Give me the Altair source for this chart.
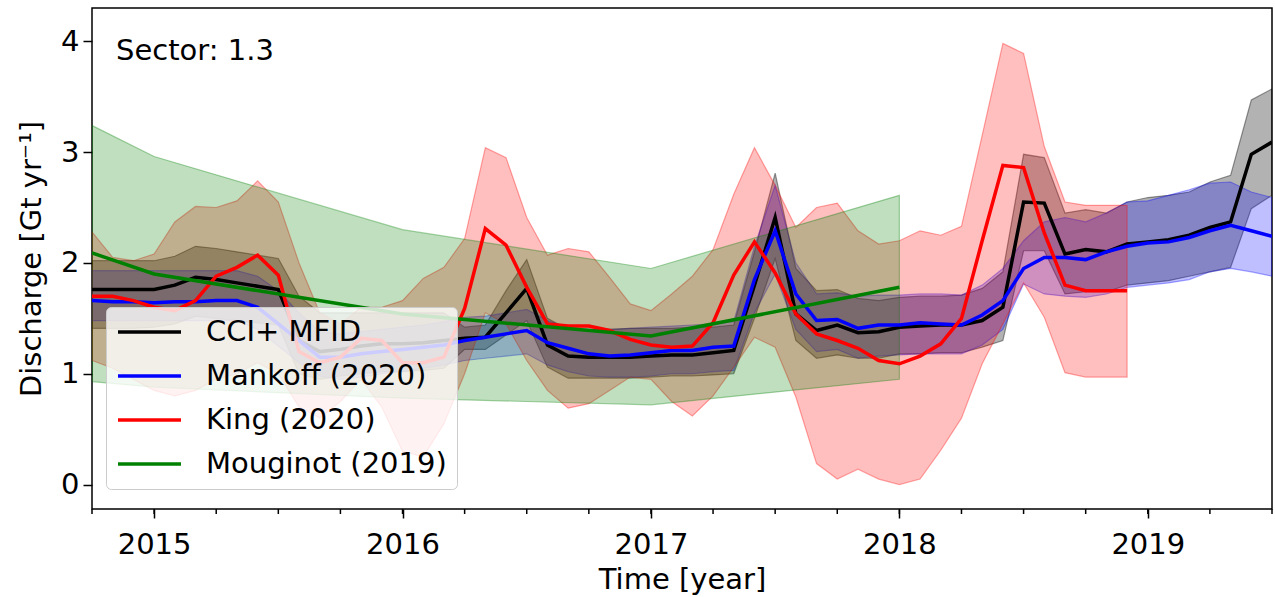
import altair as alt
import pandas as pd

# ---------------- data ----------------
months = pd.date_range("2014-10-01", "2019-07-01", freq="MS")   # monthly samples
t_all = [float(d.year + (d.month - 1) / 12) for d in months]     # decimal year
t_king = t_all[:51]                                                # King ends Dec 2018
moug_t = [2014.75, 2015.0, 2016.0, 2017.0, 2018.0]

series_names = ["CCI+ MFID", "Mankoff (2020)", "King (2020)", "Mouginot (2019)"]
series_colors = ["black", "blue", "red", "green"]

cci = [1.76, 1.76, 1.76, 1.76, 1.80, 1.87, 1.85, 1.82, 1.79, 1.76,
       1.30, 1.20, 1.22, 1.25, 1.27, 1.27, 1.28, 1.30, 1.32, 1.33,
       1.55, 1.77, 1.26, 1.16, 1.15, 1.15, 1.15, 1.16, 1.17, 1.17,
       1.19, 1.21, 1.80, 2.41, 1.54, 1.39, 1.44, 1.37, 1.38, 1.42,
       1.43, 1.44, 1.44, 1.48, 1.60, 2.55, 2.54, 2.08, 2.12, 2.10,
       2.17, 2.19, 2.21, 2.25, 2.32, 2.37, 2.98, 3.09]
cci_hi = [2.02, 2.02, 2.02, 2.02, 2.06, 2.15, 2.13, 2.10, 2.07, 2.04,
          1.70, 1.55, 1.55, 1.55, 1.55, 1.55, 1.55, 1.55, 1.42, 1.44,
          1.75, 2.03, 1.50, 1.40, 1.40, 1.40, 1.41, 1.41, 1.41, 1.42,
          1.42, 1.44, 2.10, 2.81, 1.95, 1.75, 1.76, 1.68, 1.66, 1.69,
          1.70, 1.70, 1.71, 1.77, 1.92, 2.98, 2.95, 2.45, 2.48, 2.45,
          2.55, 2.59, 2.61, 2.64, 2.73, 2.79, 3.47, 3.57]
cci_lo = [1.41, 1.41, 1.41, 1.42, 1.45, 1.52, 1.50, 1.48, 1.46, 1.44,
          1.00, 0.95, 0.98, 1.00, 1.02, 1.02, 1.03, 1.05, 1.22, 1.22,
          1.35, 1.48, 1.06, 0.96, 0.96, 0.96, 0.96, 0.97, 0.98, 0.98,
          0.99, 1.00, 1.50, 2.04, 1.30, 1.14, 1.17, 1.14, 1.14, 1.18,
          1.18, 1.19, 1.19, 1.24, 1.30, 2.11, 2.11, 1.72, 1.74, 1.74,
          1.80, 1.82, 1.84, 1.88, 1.92, 1.96, 2.49, 2.61]

mankoff = [1.66, 1.65, 1.65, 1.64, 1.65, 1.65, 1.66, 1.66, 1.60, 1.45,
           1.30, 1.15, 1.15, 1.18, 1.20, 1.22, 1.24, 1.26, 1.30, 1.33,
           1.36, 1.39, 1.28, 1.23, 1.18, 1.16, 1.17, 1.19, 1.21, 1.21,
           1.24, 1.25, 1.85, 2.29, 1.72, 1.48, 1.49, 1.41, 1.44, 1.44,
           1.46, 1.45, 1.44, 1.53, 1.66, 1.95, 2.05, 2.05, 2.03, 2.10,
           2.15, 2.18, 2.19, 2.23, 2.29, 2.34, 2.29, 2.24]
mankoff_hi = [1.93, 1.93, 1.93, 1.93, 1.93, 1.93, 1.93, 1.93, 1.88, 1.75,
              1.55, 1.38, 1.36, 1.38, 1.40, 1.42, 1.44, 1.47, 1.51, 1.52,
              1.55, 1.58, 1.48, 1.42, 1.40, 1.40, 1.41, 1.42, 1.43, 1.44,
              1.45, 1.47, 2.15, 2.70, 2.00, 1.72, 1.73, 1.70, 1.71, 1.71,
              1.72, 1.72, 1.71, 1.80, 1.95, 2.20, 2.37, 2.41, 2.37, 2.45,
              2.55, 2.56, 2.61, 2.66, 2.72, 2.73, 2.64, 2.59]
mankoff_lo = [1.48, 1.48, 1.48, 1.48, 1.48, 1.48, 1.48, 1.48, 1.40, 1.25,
              1.10, 0.98, 0.95, 0.97, 1.00, 1.02, 1.05, 1.08, 1.12, 1.14,
              1.16, 1.18, 1.08, 1.02, 0.98, 0.97, 0.97, 0.98, 1.00, 1.00,
              1.02, 1.03, 1.55, 1.90, 1.40, 1.20, 1.22, 1.14, 1.16, 1.17,
              1.18, 1.18, 1.18, 1.26, 1.40, 1.81, 1.72, 1.70, 1.69, 1.72,
              1.78, 1.80, 1.82, 1.85, 1.92, 1.95, 1.92, 1.88]

king = [1.70, 1.70, 1.66, 1.60, 1.57, 1.66, 1.88, 1.96, 2.07, 1.89,
        1.20, 1.10, 1.15, 1.32, 1.30, 1.10, 1.10, 1.15, 1.59, 2.31,
        2.16, 1.78, 1.45, 1.43, 1.43, 1.39, 1.31, 1.26, 1.24, 1.25,
        1.46, 1.89, 2.19, 1.91, 1.54, 1.36, 1.30, 1.23, 1.12, 1.09,
        1.16, 1.27, 1.50, 2.20, 2.88, 2.86, 2.27, 1.80, 1.75, 1.75,
        1.75]
king_hi = [2.28, 2.05, 2.02, 2.08, 2.37, 2.51, 2.50, 2.56, 2.74, 2.55,
           2.00, 1.55, 1.45, 1.60, 1.60, 1.66, 1.86, 1.96, 2.22, 3.04,
           2.95, 2.41, 2.07, 2.13, 2.10, 1.87, 1.63, 1.57, 1.72, 1.88,
           2.12, 2.62, 3.04, 2.70, 2.32, 2.50, 2.54, 2.29, 2.17, 2.20,
           2.29, 2.25, 2.33, 3.15, 3.98, 3.89, 3.05, 2.55, 2.52, 2.52,
           2.52]
king_lo = [1.12, 1.05, 0.95, 0.85, 0.80, 0.85, 0.95, 1.00, 1.10, 1.00,
           0.70, 0.60, 0.75, 0.95, 0.70, 0.30, 0.25, 0.55, 1.00, 1.55,
           1.45, 1.12, 0.85, 0.69, 0.73, 0.85, 0.97, 0.95, 0.75, 0.62,
           0.80, 1.06, 1.33, 1.24, 0.79, 0.19, 0.05, 0.14, 0.05, 0.00,
           0.05, 0.31, 0.60, 1.09, 1.45, 1.82, 1.51, 1.01, 0.97, 0.97,
           0.97]

moug = [2.09, 1.90, 1.54, 1.34, 1.78]
moug_hi = [3.24, 2.96, 2.30, 1.95, 2.61]
moug_lo = [0.93, 0.88, 0.78, 0.72, 0.95]

tick_years = [2015, 2016, 2017, 2018, 2019]
tick_quarters = [2014.75 + 0.25 * i for i in range(20)]
y_ticks = [0, 1, 2, 3, 4]

# ---------------- tables ----------------
band_specs = [
    (series_names[0], t_all, cci_lo, cci_hi, "black", 0.30),
    (series_names[1], t_all, mankoff_lo, mankoff_hi, "blue", 0.25),
    (series_names[2], t_king, king_lo, king_hi, "red", 0.25),
    (series_names[3], moug_t, moug_lo, moug_hi, "green", 0.25),
]
line_df = pd.concat([
    pd.DataFrame({"t": t_all, "v": cci, "series": series_names[0]}),
    pd.DataFrame({"t": t_all, "v": mankoff, "series": series_names[1]}),
    pd.DataFrame({"t": t_king, "v": king, "series": series_names[2]}),
    pd.DataFrame({"t": moug_t, "v": moug, "series": series_names[3]}),
], ignore_index=True)

FONT = "DejaVu Sans"
PLOT_W, PLOT_H = 1180, 501
xscale = alt.Scale(domain=[2014.75, 2019.5], nice=False, zero=False)
yscale = alt.Scale(domain=[-0.22, 4.30], nice=False, zero=False)
xaxis = alt.Axis(
    values=tick_years, format="d",
    title="Time [year]", titleFontSize=29, titleFont=FONT, titleFontWeight="normal",
    titleColor="black", titlePadding=6,
    labelFontSize=29, labelFont=FONT, labelColor="black", labelPadding=12,
    labelFlush=False, labelOverlap=False,
    tickSize=9, tickColor="black", tickWidth=1.5, grid=False, domain=False)
yaxis = alt.Axis(
    values=y_ticks, format="d",
    title="Discharge [Gt yr\u207b\u00b9]", titleFontSize=29, titleFont=FONT,
    titleFontWeight="normal", titleColor="black", titlePadding=14,
    labelFontSize=29, labelFont=FONT, labelColor="black", labelPadding=4,
    tickSize=9, tickColor="black", tickWidth=1.5, grid=False, domain=False)

X = alt.X("t:Q", scale=xscale, axis=xaxis)

layers = []
for name, t, lo, hi, col, op in band_specs:
    df = pd.DataFrame({"t": t, "lo": lo, "hi": hi})
    layers.append(
        alt.Chart(df).mark_area(color=col, fillOpacity=op, stroke=col,
                                strokeOpacity=op + 0.1, strokeWidth=1.2, clip=True)
        .encode(x=X, y=alt.Y("lo:Q", scale=yscale, axis=yaxis), y2="hi:Q")
    )

legend = alt.Legend(
    title=None, orient="none", legendX=14, legendY=299, direction="vertical",
    symbolType="stroke", symbolSize=3969, symbolStrokeWidth=3.5, symbolOffset=0,
    labelOffset=23, labelFontSize=29, labelFont=FONT, labelColor="black", labelLimit=500,
    fillColor="rgba(255,255,255,0.8)", strokeColor="#cccccc", cornerRadius=5,
    padding=10, rowPadding=14, clipHeight=30)
color = alt.Color("series:N",
                  scale=alt.Scale(domain=series_names, range=series_colors),
                  legend=legend)

for name in series_names:
    layers.append(
        alt.Chart(line_df).transform_filter(alt.datum.series == name)
        .mark_line(strokeWidth=3.5, clip=True)
        .encode(x=X, y=alt.Y("v:Q", scale=yscale, axis=yaxis), color=color)
    )

# minor (quarterly) ticks below the bottom frame, placed through the x scale
minor = alt.Chart(pd.DataFrame({"t": tick_quarters})).mark_rule(
    color="black", strokeWidth=1.5
).encode(x=X, y=alt.value(PLOT_H), y2=alt.value(PLOT_H + 5))
layers.append(minor)

label = alt.Chart(pd.DataFrame({"txt": ["Sector: 1.3"]})).mark_text(
    align="left", baseline="alphabetic", fontSize=29, font=FONT, color="black"
).encode(text="txt:N", x=alt.value(24), y=alt.value(52))
layers.append(label)

chart = alt.layer(*layers).properties(
    width=PLOT_W, height=PLOT_H,
    background="white",
    autosize=alt.AutoSizeParams(type="none"),
    padding={"left": 92, "top": 8, "right": 3, "bottom": 88},
).configure_view(stroke="black", strokeWidth=1.5)

chart.save("out.html", embed_options={"renderer": "svg", "actions": False})
